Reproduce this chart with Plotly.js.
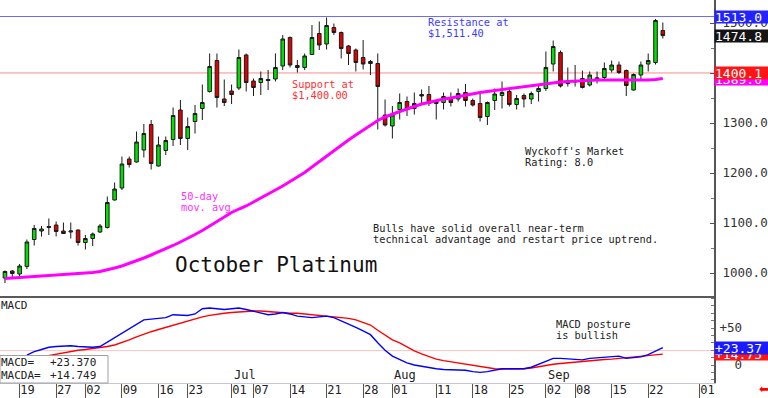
<!DOCTYPE html>
<html><head><meta charset="utf-8">
<script src="https://cdn.plot.ly/plotly-3.0.1.min.js"></script>
<style>html,body{margin:0;padding:0;background:#fff;overflow:hidden}#chart{width:768px;height:398px;}</style>
</head><body><div id="chart"></div><script>
// Trading sessions (2025), including future sessions up to the last axis tick
const sessions = [
 '2025-05-15','2025-05-16','2025-05-19','2025-05-20','2025-05-21','2025-05-22','2025-05-23','2025-05-27','2025-05-28','2025-05-29','2025-05-30',
 '2025-06-02','2025-06-03','2025-06-04','2025-06-05','2025-06-06','2025-06-09','2025-06-10','2025-06-11','2025-06-12','2025-06-13',
 '2025-06-16','2025-06-17','2025-06-18','2025-06-20','2025-06-23','2025-06-24','2025-06-25','2025-06-26','2025-06-27','2025-06-30',
 '2025-07-01','2025-07-02','2025-07-03','2025-07-07','2025-07-08','2025-07-09','2025-07-10','2025-07-11','2025-07-14','2025-07-15',
 '2025-07-16','2025-07-17','2025-07-18','2025-07-21','2025-07-22','2025-07-23','2025-07-24','2025-07-25','2025-07-28','2025-07-29',
 '2025-07-30','2025-07-31','2025-08-01','2025-08-04','2025-08-05','2025-08-06','2025-08-07','2025-08-08','2025-08-11','2025-08-12',
 '2025-08-13','2025-08-14','2025-08-15','2025-08-18','2025-08-19','2025-08-20','2025-08-21','2025-08-22','2025-08-25','2025-08-26',
 '2025-08-27','2025-08-28','2025-08-29','2025-09-02','2025-09-03','2025-09-04','2025-09-05','2025-09-08','2025-09-09','2025-09-10',
 '2025-09-11','2025-09-12','2025-09-15','2025-09-16','2025-09-17','2025-09-18','2025-09-19','2025-09-22','2025-09-23','2025-09-24',
 '2025-09-25','2025-09-26','2025-09-29','2025-09-30','2025-10-01'
];
const openPx = [990,1004,998,1013,1067,1084,1091,1096,1084,1082,1086,1061,1069,1082,1091,1146,1170,1228,1222,1246,
 1297,1214,1245,1267,1326,1269,1303,1329,1363,1425,1348,1364,1370,1436,1384,1381,1387,1388,1414,1471,
 1415,1411,1437,1479,1458,1491,1481,1454,1446,1431,1423,1419,1316,1294,1327,1343,1329,1357,1357,1339,
 1341,1349,1348,1361,1345,1339,1313,1345,1355,1363,1337,1355,1348,1363,1369,1418,1441,1379,1382,1389,
 1376,1388,1391,1406,1416,1405,1366,1396,1418,1421,1485];
const highPx = [1005,1006,1018,1067,1096,1094,1109,1103,1101,1101,1087,1076,1081,1098,1153,1181,1233,1233,1283,1298,
 1306,1273,1273,1331,1346,1311,1336,1377,1439,1439,1387,1377,1447,1439,1389,1403,1406,1439,1476,1473,
 1426,1439,1496,1503,1511,1499,1483,1456,1449,1466,1426,1439,1347,1334,1359,1353,1361,1367,1374,1347,
 1361,1361,1369,1378,1349,1359,1343,1369,1383,1369,1356,1359,1363,1376,1443,1465,1445,1411,1416,1405,
 1403,1403,1421,1425,1423,1407,1399,1423,1439,1508,1501];
const lowPx = [980,990,994,1008,1055,1073,1076,1073,1078,1069,1055,1047,1054,1080,1089,1145,1166,1211,1221,1231,
 1207,1213,1236,1254,1256,1246,1279,1306,1361,1331,1334,1338,1366,1363,1354,1356,1366,1383,1406,1411,
 1401,1406,1436,1446,1447,1476,1429,1416,1403,1407,1396,1287,1293,1269,1307,1314,1317,1336,1334,1307,
 1327,1333,1343,1333,1333,1303,1296,1326,1329,1333,1327,1331,1338,1343,1364,1403,1371,1373,1373,1369,
 1373,1379,1386,1401,1398,1354,1365,1386,1403,1417,1469];
const closePx = [1003,999,1014,1062,1089,1088,1093,1083,1079,1084,1061,1069,1078,1094,1141,1168,1218,1217,1262,1279,
 1219,1256,1265,1315,1269,1293,1319,1341,1413,1351,1341,1357,1431,1381,1371,1389,1385,1411,1468,1416,
 1411,1434,1471,1456,1495,1481,1449,1439,1421,1418,1419,1373,1296,1316,1341,1329,1339,1354,1339,1343,
 1353,1341,1359,1345,1336,1311,1341,1358,1361,1337,1349,1348,1359,1369,1411,1453,1374,1385,1384,1371,
 1396,1390,1409,1416,1401,1375,1397,1416,1425,1505,1474.8];
const ma50 = [989,990,990,991,992,993,994,995,996,997,998,999,1001,1003,1006,1010,1014,1019,1024,1030,
 1036,1042,1049,1055,1062,1069,1077,1085,1094,1103,1113,1121,1128,1134,1142,1150,1157,1165,1174,1183,
 1192,1201,1212,1223,1234,1245,1256,1266,1276,1286,1296,1305,1312,1318,1323,1328,1333,1338,1341,1345,
 1348,1350,1353,1356,1359,1361,1363,1365,1367,1369,1370,1372,1374,1376,1378,1380,1382,1383,1384,1385,
 1385,1386,1386,1386,1386,1386,1385,1385,1386,1387,1389];
const macdLine = [null,null,null,13.5,18,21,24,25,26,26,25,24,24,25,31,37,44,50,56,61,
 62,63,64,68,67,67,69,76,77,76,75,76,77,75,73,71,68,69,71,69,
 66,65,64,65,66,64,60,56,51,46,41,30,20,12,7,3,0,-2,-4,-5,
 -6,-6,-6,-7,-9,-10,-9,-7,-5,-5,-5,-5,-3,1,6,9,9,8,8,7,
 9,10,11,12,12,9,10,11,14,19,23.37];
const macdAvg = [null,null,null,null,null,11,13,15,17,19,20,21,22,23.4,25,27,30,34,38,42,
 45,48,51,54,57,60,62,65,67,69,70,71,72,73,73,73,72,72,71,70,
 70,69,68,67,67,66,65,63,61,58,54,47,40,34,30,24,19,15,11,8,
 6,4.5,3,1.5,0,-2,-4,-5,-5.4,-5.4,-5.4,-5,-4,-2,0,1,2,3,4.5,5,
 6,7,7.5,8,9,9.5,10,11,12,13,14.749];
const macdValueText = ['+23.370','+14.749'];
const tickDates = ['2025-05-19','2025-05-27','2025-06-02','2025-06-09','2025-06-16','2025-06-23','2025-07-01','2025-07-07',
 '2025-07-14','2025-07-21','2025-07-28','2025-08-01','2025-08-11','2025-08-18','2025-08-25','2025-09-02','2025-09-08',
 '2025-09-15','2025-09-22','2025-10-01'];
const tickLabels = ['19','27','02','09','16','23','01','07','14','21','28','01','11','18','25','02','08','15','22','01'];
const monthDates = ['2025-07-01','2025-08-01','2025-09-02'];
const monthLabels = ['Jul','Aug','Sep'];
const resistanceLevel = 1513.0;
const supportLevel = 1400.1;
const macdRefLevel = 19.5;
const priceTicks = [1000,1100,1200,1300,1400,1500];

// ---- layout constants ----
const W = 768, H = 398, ML = 0, MR = 54, MT = 0, MB = 15;
const PW = W - ML - MR, PH = H - MT - MB;
const split = 86 / PH;
const MONO = 'DejaVu Sans Mono';
const px = x => x / PW;
const py = y => 1 - y / PH;

const idx = sessions.slice(0, closePx.length).map((d, i) => i);
const tickVals = tickDates.map(d => sessions.indexOf(d));

function txt(text, x, capTop, size, color) {
  return {text: text, xref: 'paper', yref: 'paper', x: px(x - 1), y: py(capTop - 0.32 * size),
    xanchor: 'left', yanchor: 'top', showarrow: false, borderpad: 0,
    font: {family: MONO, size: size, color: color}};
}
function valueBox(text, yval, yref, bg) {
  return {text: text, xref: 'paper', yref: yref, x: 1, y: yval, xanchor: 'left', yanchor: 'middle',
    showarrow: false, bgcolor: bg, width: 54, height: 12, borderpad: 0, align: 'left', valign: 'middle',
    font: {family: MONO, size: 13, color: '#ffffff'}};
}

const traces = [
  {type: 'candlestick', x: idx, open: openPx, high: highPx, low: lowPx, close: closePx,
   xaxis: 'x', yaxis: 'y', whiskerwidth: 0, hoverinfo: 'skip',
   increasing: {line: {color: '#1a1a1a', width: 1}, fillcolor: '#00e000'},
   decreasing: {line: {color: '#1a1a1a', width: 1}, fillcolor: '#e00000'}},
  {type: 'scatter', mode: 'lines', x: idx, y: ma50, xaxis: 'x', yaxis: 'y',
   line: {color: '#ff00ff', width: 3}, hoverinfo: 'skip'},
  {type: 'scatter', mode: 'lines', x: idx, y: macdAvg, xaxis: 'x', yaxis: 'y2',
   line: {color: '#ff0000', width: 1.4}, hoverinfo: 'skip'},
  {type: 'scatter', mode: 'lines', x: idx, y: macdLine, xaxis: 'x', yaxis: 'y2',
   line: {color: '#0000ff', width: 1.4}, hoverinfo: 'skip'}
];

const last = closePx.length - 1;
const macdTickVals = [-20,-10,0,10,20,30,40,50,60,70,80,90];
const macdTickText = macdTickVals.map(v => v === 0 ? '\u2007\u20070' : (v === 50 ? '+50' : ''));

const layout = {
  width: W, height: H, margin: {l: ML, r: MR, t: MT, b: MB, pad: 0},
  paper_bgcolor: '#ffffff', plot_bgcolor: '#ffffff', showlegend: false,
  font: {family: MONO, color: '#222'},
  xaxis: {anchor: 'y2', range: [-0.68, 97], showgrid: false, zeroline: false,
    rangeslider: {visible: false}, showline: true, linecolor: '#c4c4dc', linewidth: 1,
    tickmode: 'array', tickvals: tickVals, ticktext: tickLabels,
    ticks: 'outside', ticklen: 15, tickwidth: 1, tickcolor: '#555',
    ticklabelstandoff: -19, ticklabelshift: 8,
    tickfont: {family: MONO, size: 12, color: '#222'}, automargin: false, fixedrange: true},
  yaxis: {domain: [split, 1], range: [952, 1546], side: 'right', anchor: 'x',
    showgrid: false, zeroline: false, showline: true, linecolor: '#555', linewidth: 2,
    tickmode: 'array', tickvals: priceTicks, tickformat: '.1f',
    ticks: 'inside', ticklen: 4, tickcolor: '#555', ticklabelstandoff: 4,
    minor: {dtick: 50, ticks: 'inside', ticklen: 3, tickcolor: '#777'},
    tickfont: {family: MONO, size: 12.5, color: '#333'}, automargin: false, fixedrange: true},
  yaxis2: {domain: [0, split], range: [-24.3, 91.9], side: 'right', anchor: 'x',
    showgrid: false, zeroline: false, showline: true, linecolor: '#555', linewidth: 2,
    tickmode: 'array', tickvals: macdTickVals, ticktext: macdTickText,
    ticks: 'inside', ticklen: 3, tickcolor: '#777', ticklabelstandoff: 1,
    tickfont: {family: MONO, size: 12.5, color: '#333'}, automargin: false, fixedrange: true},
  shapes: [
    {type: 'line', xref: 'paper', yref: 'y', x0: 0, x1: 1, y0: resistanceLevel, y1: resistanceLevel,
     line: {color: '#6b6bff', width: 1}, layer: 'below'},
    {type: 'line', xref: 'paper', yref: 'y', x0: 0, x1: 1, y0: supportLevel, y1: supportLevel,
     line: {color: '#ff8c8c', width: 1}, layer: 'below'},
    {type: 'line', xref: 'paper', yref: 'y2', x0: 0, x1: 1, y0: macdRefLevel, y1: macdRefLevel,
     line: {color: '#ffc4c4', width: 1}, layer: 'below'},
    {type: 'line', xref: 'paper', yref: 'paper', x0: 0, x1: 1, y0: split, y1: split,
     line: {color: '#222', width: 1.5}},
    {type: 'rect', xref: 'paper', yref: 'paper', x0: 0, x1: px(108), y0: 0, y1: py(355.5),
     fillcolor: '#ffffff', line: {color: '#a0a0a0', width: 1}}
  ],
  annotations: [
    txt('Resistance at', 428, 18, 10.3, '#3c3cff'),
    txt('$1,511.40', 428, 29, 10.3, '#3c3cff'),
    txt('Support at', 292, 80, 10.3, '#ff3030'),
    txt('$1,400.00', 292, 91, 10.3, '#ff3030'),
    txt('50-day', 181, 192, 10.3, '#ff30ff'),
    txt('mov. avg.', 181, 203, 10.3, '#ff30ff'),
    txt("Wyckoff's Market", 525, 147.5, 10.3, '#222'),
    txt('Rating: 8.0', 525, 158.5, 10.3, '#222'),
    txt('Bulls have solid overall near-term', 372.5, 224.5, 10.3, '#222'),
    txt('technical advantage and restart price uptrend.', 372.5, 235, 10.3, '#222'),
    txt('October Platinum', 175, 259, 21, '#111'),
    txt('MACD', 0.5, 302, 11, '#222'),
    txt('MACD posture', 556, 320, 10.3, '#222'),
    txt('is bullish', 556, 331, 10.3, '#222'),
    txt('MACD=', 0.5, 359, 11, '#222'),
    txt(macdValueText[0], 50, 359, 11, '#222'),
    txt('MACDA=', 0.5, 372, 11, '#222'),
    txt(macdValueText[1], 50, 372, 11, '#222'),
    valueBox(resistanceLevel.toFixed(1), resistanceLevel, 'y', '#2323ff'),
    valueBox(closePx[last].toFixed(1), closePx[last], 'y', '#141414'),
    valueBox(ma50[last].toFixed(1), ma50[last], 'y', '#ff00ff'),
    valueBox(supportLevel.toFixed(1), supportLevel, 'y', '#ff1515'),
    valueBox('+' + macdAvg[last].toFixed(2), macdAvg[last], 'y2', '#ff1515'),
    valueBox('+' + macdLine[last].toFixed(2), macdLine[last], 'y2', '#1a1aff'),
    {text: '\u2B05', xref: 'paper', yref: 'paper', x: px(757), y: py(389), xanchor: 'left', yanchor: 'middle',
     showarrow: false, font: {family: 'DejaVu Sans', size: 12, color: '#ff0000'}}
  ].concat(monthDates.map((d, k) => ({text: monthLabels[k], xref: 'x', yref: 'paper',
     x: sessions.indexOf(d), y: 0, xanchor: 'left', yanchor: 'bottom', xshift: 1, showarrow: false,
     borderpad: 0, font: {family: MONO, size: 12, color: '#222'}})))
};

Plotly.newPlot('chart', traces, layout, {staticPlot: true, displayModeBar: false});
</script></body></html>
